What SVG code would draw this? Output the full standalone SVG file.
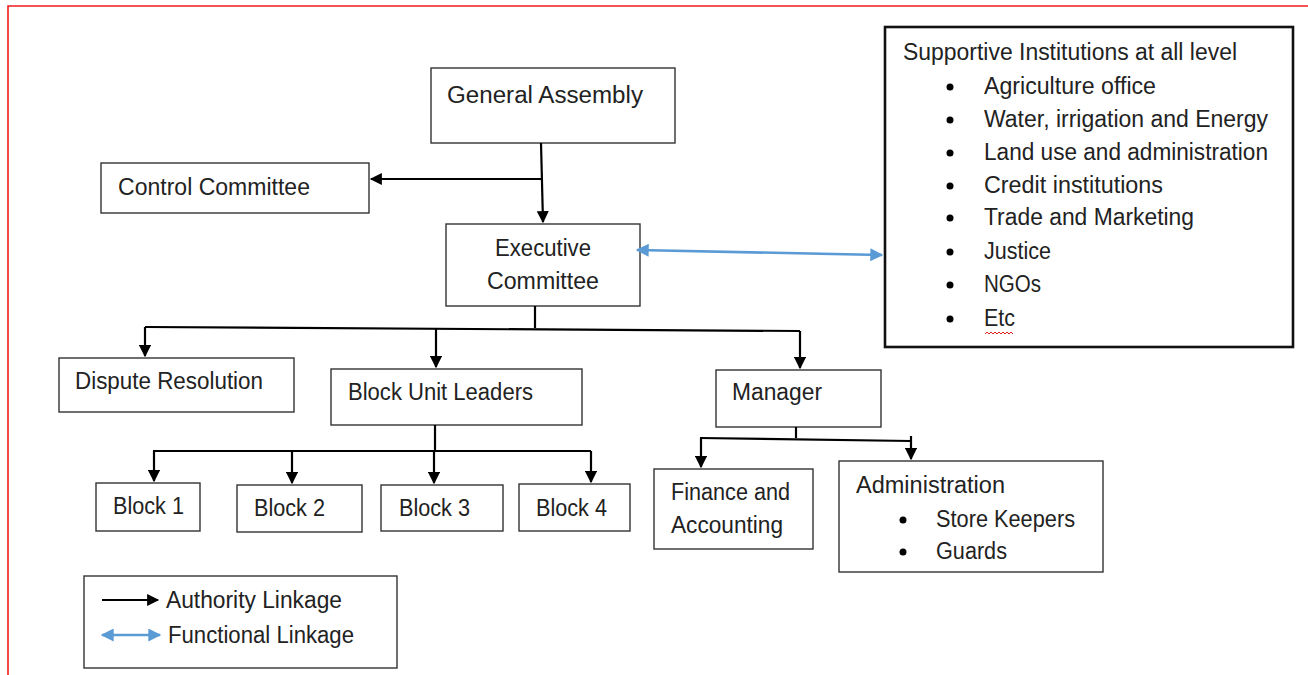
<svg xmlns="http://www.w3.org/2000/svg" width="1308" height="675" viewBox="0 0 1308 675">
<defs>
<style>
.box{fill:#fff;stroke:#333;stroke-width:1.4}
.bold{fill:#fff;stroke:#111;stroke-width:2.6}
.t{font-family:"Liberation Sans",Arial,sans-serif;font-size:23px;fill:#222}
.auth{fill:none;stroke:#000;stroke-width:2.2}
.func{fill:none;stroke:#5b9bd5;stroke-width:2.6}
.dot{fill:#000}
</style>
<marker id="ah" viewBox="0 0 10 10" refX="9" refY="5" markerWidth="6" markerHeight="5.5" markerUnits="strokeWidth" orient="auto">
<path d="M0,0 L10,5 L0,10 z" fill="#000"/>
</marker>
<marker id="bh" viewBox="0 0 10 10" refX="9" refY="5" markerWidth="5.5" markerHeight="5" markerUnits="strokeWidth" orient="auto-start-reverse">
<path d="M0,0 L10,5 L0,10 z" fill="#5b9bd5"/>
</marker>
</defs>
<rect width="1308" height="675" fill="#fff"/>
<path d="M8,675 V6 H1308" fill="none" stroke="#ee1c1c" stroke-width="1.6"/>

<g id="general-assembly">
<rect class="box" x="431" y="68" width="244" height="75"/>
<text class="t" x="447" y="103" textLength="196" lengthAdjust="spacingAndGlyphs">General Assembly</text>
</g>
<g id="control-committee">
<rect class="box" x="101" y="163" width="268" height="50"/>
<text class="t" x="118" y="195" textLength="192" lengthAdjust="spacingAndGlyphs">Control Committee</text>
</g>
<g id="executive-committee">
<rect class="box" x="446" y="224" width="194" height="82"/>
<text class="t" x="495" y="256" textLength="96" lengthAdjust="spacingAndGlyphs">Executive</text>
<text class="t" x="487" y="289" textLength="112" lengthAdjust="spacingAndGlyphs">Committee</text>
</g>
<g id="supportive-institutions">
<rect class="bold" x="885" y="27" width="408" height="320"/>
<text class="t" x="903" y="60" textLength="334" lengthAdjust="spacingAndGlyphs">Supportive Institutions at all level</text>
<circle class="dot" cx="950" cy="87" r="3.5"/>
<text class="t" x="984" y="94" textLength="172" lengthAdjust="spacingAndGlyphs">Agriculture office</text>
<circle class="dot" cx="950" cy="120" r="3.5"/>
<text class="t" x="984" y="127" textLength="284" lengthAdjust="spacingAndGlyphs">Water, irrigation and Energy</text>
<circle class="dot" cx="950" cy="153" r="3.5"/>
<text class="t" x="984" y="160" textLength="284" lengthAdjust="spacingAndGlyphs">Land use and administration</text>
<circle class="dot" cx="950" cy="186" r="3.5"/>
<text class="t" x="984" y="193" textLength="179" lengthAdjust="spacingAndGlyphs">Credit institutions</text>
<circle class="dot" cx="950" cy="218" r="3.5"/>
<text class="t" x="984" y="225" textLength="210" lengthAdjust="spacingAndGlyphs">Trade and Marketing</text>
<circle class="dot" cx="950" cy="252" r="3.5"/>
<text class="t" x="984" y="259" textLength="67" lengthAdjust="spacingAndGlyphs">Justice</text>
<circle class="dot" cx="950" cy="285" r="3.5"/>
<text class="t" x="984" y="292" textLength="57" lengthAdjust="spacingAndGlyphs">NGOs</text>
<circle class="dot" cx="950" cy="319" r="3.5"/>
<text class="t" x="984" y="326" textLength="31" lengthAdjust="spacingAndGlyphs">Etc</text>
<path d="M985,334 l2,-2 l2,2 l2,-2 l2,2 l2,-2 l2,2 l2,-2 l2,2 l2,-2 l2,2 l2,-2 l2,2 l2,-2 l2,2" fill="none" stroke="#e02020" stroke-width="1"/>
</g>
<g id="dispute-resolution">
<rect class="box" x="59" y="358" width="235" height="54"/>
<text class="t" x="75" y="389" textLength="188" lengthAdjust="spacingAndGlyphs">Dispute Resolution</text>
</g>
<g id="block-unit-leaders">
<rect class="box" x="331" y="369" width="251" height="56"/>
<text class="t" x="348" y="400" textLength="185" lengthAdjust="spacingAndGlyphs">Block Unit Leaders</text>
</g>
<g id="manager">
<rect class="box" x="716" y="370" width="165" height="57"/>
<text class="t" x="732" y="400" textLength="90" lengthAdjust="spacingAndGlyphs">Manager</text>
</g>
<g id="block-1">
<rect class="box" x="96" y="483" width="104" height="48"/>
<text class="t" x="113" y="514" textLength="71" lengthAdjust="spacingAndGlyphs">Block 1</text>
</g>
<g id="block-2">
<rect class="box" x="237" y="485" width="125" height="47"/>
<text class="t" x="254" y="516" textLength="71" lengthAdjust="spacingAndGlyphs">Block 2</text>
</g>
<g id="block-3">
<rect class="box" x="381" y="485" width="122" height="46"/>
<text class="t" x="399" y="516" textLength="71" lengthAdjust="spacingAndGlyphs">Block 3</text>
</g>
<g id="block-4">
<rect class="box" x="519" y="484" width="111" height="47"/>
<text class="t" x="536" y="516" textLength="71" lengthAdjust="spacingAndGlyphs">Block 4</text>
</g>
<g id="finance">
<rect class="box" x="654" y="469" width="159" height="80"/>
<text class="t" x="671" y="500" textLength="119" lengthAdjust="spacingAndGlyphs">Finance and</text>
<text class="t" x="671" y="533" textLength="112" lengthAdjust="spacingAndGlyphs">Accounting</text>
</g>
<g id="administration">
<rect class="box" x="839" y="461" width="264" height="111"/>
<text class="t" x="856" y="493" textLength="149" lengthAdjust="spacingAndGlyphs">Administration</text>
<circle class="dot" cx="903" cy="520" r="3.5"/>
<text class="t" x="936" y="527" textLength="139" lengthAdjust="spacingAndGlyphs">Store Keepers</text>
<circle class="dot" cx="903" cy="552" r="3.5"/>
<text class="t" x="936" y="559" textLength="71" lengthAdjust="spacingAndGlyphs">Guards</text>
</g>
<g id="legend">
<rect class="box" x="84" y="576" width="313" height="92"/>
<line class="auth" x1="102" y1="600" x2="158" y2="600" marker-end="url(#ah)"/>
<text class="t" x="166" y="608" textLength="176" lengthAdjust="spacingAndGlyphs">Authority Linkage</text>
<line class="func" x1="102" y1="635" x2="160" y2="635" marker-start="url(#bh)" marker-end="url(#bh)"/>
<text class="t" x="168" y="643" textLength="186" lengthAdjust="spacingAndGlyphs">Functional Linkage</text>
</g>

<g id="connectors">
<path class="auth" d="M541,143 L543,222" marker-end="url(#ah)"/>
<path class="auth" d="M541,179 L371,179" marker-end="url(#ah)"/>
<line class="func" x1="637" y1="250" x2="882" y2="255" marker-start="url(#bh)" marker-end="url(#bh)"/>
<path class="auth" d="M535,306 V328"/>
<path class="auth" d="M145,327 L800,331"/>
<path class="auth" d="M145,327 V356" marker-end="url(#ah)"/>
<path class="auth" d="M436,328 V367" marker-end="url(#ah)"/>
<path class="auth" d="M800,331 V368" marker-end="url(#ah)"/>
<path class="auth" d="M435,425 V451"/>
<path class="auth" d="M153,451 H591"/>
<path class="auth" d="M154,451 V481" marker-end="url(#ah)"/>
<path class="auth" d="M292,451 V483" marker-end="url(#ah)"/>
<path class="auth" d="M434,451 V483" marker-end="url(#ah)"/>
<path class="auth" d="M591,451 V482" marker-end="url(#ah)"/>
<path class="auth" d="M796,427 V438"/>
<path class="auth" d="M700,438 L911,441"/>
<path class="auth" d="M701,438 V467" marker-end="url(#ah)"/>
<path class="auth" d="M911,436 V459" marker-end="url(#ah)"/>
</g>
</svg>
